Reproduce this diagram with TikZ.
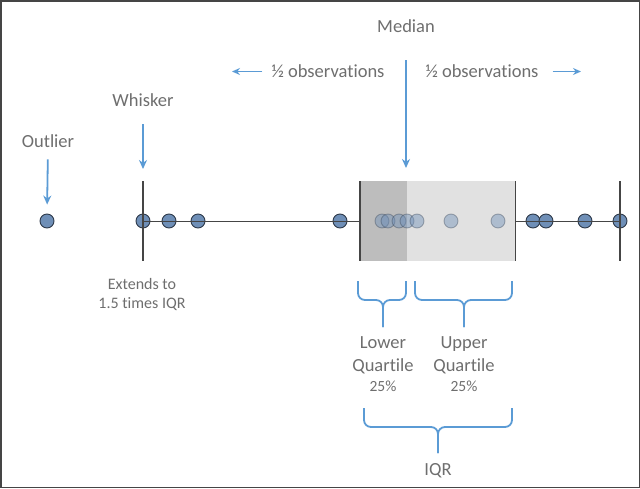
\documentclass[tikz,border=0pt]{standalone}
\usepackage{fontspec}
\setmainfont{Carlito}[Ligatures=NoCommon]
\usetikzlibrary{positioning, arrows.meta}
\definecolor{callblue}{HTML}{5B9BD5}
\definecolor{dotfill}{HTML}{6F8FB7}
\definecolor{dotline}{HTML}{2E3A4A}
\definecolor{txtgrey}{HTML}{6E6E6E}
\definecolor{linegrey}{HTML}{454545}
\definecolor{lowgrey}{HTML}{BDBDBD}
\definecolor{upgrey}{HTML}{E1E1E1}
\tikzset{
  lbl/.style={text=txtgrey, font=\fontsize{18.5}{23}\selectfont, inner sep=0pt, anchor=base, align=center},
  smalllbl/.style={text=txtgrey, font=\fontsize{16}{19}\selectfont, inner sep=0pt, anchor=base, align=center},
  obs/.style={circle, draw=dotline, fill=dotfill, minimum size=14pt, inner sep=0pt, line width=0.9pt},
  ghostobs/.style={obs, draw opacity=0.35, fill opacity=0.45},
  callout/.style={-{Stealth[length=9pt, width=8pt]}, callblue, line width=1.8pt},
  thinarrow/.style={-{Stealth[length=8pt, width=7pt]}, callblue, line width=1.3pt},
  brace/.style={callblue, line width=1.8pt, rounded corners=7pt}
}
\begin{document}
\begin{tikzpicture}[x=1pt, y=-1pt]
        \useasboundingbox (0,0) rectangle (640,488);
        \draw[linegrey, line width=1.5pt] (0.75,0.75) rectangle (639.25,487.25);
        % observations outside the box
        \node[obs] (OUT) at (47,221) {};
        \foreach \x [count=\i] in {143,169,198,340,533,546,585,620}
          \node[obs] (P\i) at (\x,221) {};
        \draw[linegrey, line width=1pt] (P1.center) -- (P8.center);
        % the box
        \node[fill=lowgrey, minimum width=47pt, minimum height=80pt, inner sep=0pt, anchor=north west]
          (LOWBOX) at (360,181) {};
        \node[fill=upgrey, minimum width=108pt, minimum height=80pt, inner sep=0pt, anchor=north west]
          (UPBOX) at (407,181) {};
        \draw[linegrey, line width=1.2pt] (LOWBOX.north west) -- (LOWBOX.south west);
        \draw[linegrey, line width=1.2pt] (UPBOX.north east) -- (UPBOX.south east);
        \foreach \x [count=\i] in {382,388,399,407,417,451,498}
          \node[ghostobs] (G\i) at (\x,221) {};
        % whiskers
        \coordinate (WTOP) at (143,181);
        \coordinate (WBOT) at (143,261);
        \draw[linegrey, line width=2pt] (WTOP) -- (WBOT);
        \draw[linegrey, line width=2pt] (620,181) -- (620,261);
        % labels
        \node[lbl] (OUTLIER) at (48,147) {Outlier};
        \node[lbl] (WHISKER) at (143,106) {Whisker};
        \node[lbl] (MEDIAN) at (406,32) {Median};
        \node[lbl] (HALFL) at (328,77) {½ observations};
        \node[lbl] (HALFR) at (482,77) {½ observations};
        \node[smalllbl] (EXT) at (142,308) {Extends to\\1.5 times IQR};
        \node[lbl] (LOWQ) at (383,391) {Lower\\Quartile\\[-3pt]{\fontsize{15.5}{18}\selectfont 25\%}};
        \node[lbl] (UPQ) at (464,391) {Upper\\Quartile\\[-3pt]{\fontsize{15.5}{18}\selectfont 25\%}};
        \node[lbl] (IQR) at (438,475) {IQR};
        % callouts
        \coordinate (MEDTOP) at (406,181);
        \coordinate (TIPL) at (232,71.5);
        \coordinate (TIPR) at (581,71.5);
        \draw[callout, shorten <=12pt, shorten >=9pt] (OUTLIER.south) -- (OUT.north);
        \draw[callout, shorten <=18pt, shorten >=12pt] (WHISKER.south) -- (WTOP);
        \draw[callout, shorten <=28pt, shorten >=13pt] (MEDIAN.south) -- (MEDTOP);
        \draw[thinarrow, shorten <=9pt] (HALFL.west |- TIPL) -- (TIPL);
        \draw[thinarrow, shorten <=14pt] (HALFR.east |- TIPR) -- (TIPR);
        % braces
        \draw[brace] (358,281) |- (383,300) -- (383,327);
        \draw[brace] (406,281) |- (383,300) -- (383,327);
        \draw[brace] (415,281) |- (464,300) -- (464,327);
        \draw[brace] (512,281) |- (464,300) -- (464,327);
        \draw[brace] (364,408) |- (438,427) -- (438,453);
        \draw[brace] (512,408) |- (438,427) -- (438,453);
      \end{tikzpicture}
\end{document}
